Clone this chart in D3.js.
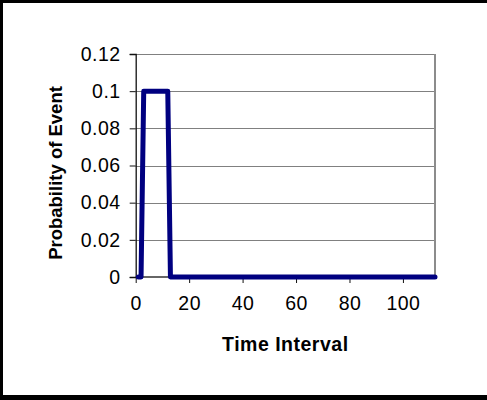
<!DOCTYPE html>
<html>
<head>
<meta charset="utf-8">
<script src="https://cdn.jsdelivr.net/npm/d3@7"></script>
<style>
  html, body { margin: 0; padding: 0; background: #fff; }
  svg { display: block; }
  text { font-family: "Liberation Sans", Arial, sans-serif; fill: #000; }
</style>
</head>
<body>
<svg id="chart" width="487" height="400"></svg>
<script>
// ---- data (breakpoints of the series; intermediate points are collinear) ----
const timeValues = [1, 2, 3, 12, 13, 112];
const probValues = [0, 0, 0.1, 0.1, 0, 0];
const xTickValues = [0, 20, 40, 60, 80, 100];
const yTickValues = [0, 0.02, 0.04, 0.06, 0.08, 0.1, 0.12];
const xTitle = "Time Interval";
const yTitle = "Probability of Event";

const svg = d3.select("#chart");
const W = 487, H = 400;
const plot = { left: 135.7, right: 435, top: 54, bottom: 277 };

svg.append("rect").attr("x", 0).attr("y", 0).attr("width", W).attr("height", H).attr("fill", "#fff");
// outer frame (black)
svg.append("rect").attr("x", 0).attr("y", 0).attr("width", W).attr("height", 3).attr("fill", "#000");
svg.append("rect").attr("x", 0).attr("y", 0).attr("width", 3).attr("height", H).attr("fill", "#000");
svg.append("rect").attr("x", 0).attr("y", 395).attr("width", W).attr("height", 5).attr("fill", "#000");

const x = d3.scaleLinear().domain([0, 112]).range([plot.left, plot.right]);
const y = d3.scaleLinear().domain([0, 0.12]).range([plot.bottom, plot.top]);

// gridlines
svg.append("g").selectAll("line").data(yTickValues.filter(d => d > 0)).join("line")
  .attr("x1", plot.left).attr("x2", plot.right)
  .attr("y1", d => Math.round(y(d)) + 0.5).attr("y2", d => Math.round(y(d)) + 0.5)
  .attr("stroke", "#808080").attr("stroke-width", 1);
// right frame
svg.append("line").attr("x1", plot.right).attr("x2", plot.right)
  .attr("y1", plot.top).attr("y2", plot.bottom)
  .attr("stroke", "#8c8c8c").attr("stroke-width", 2);

// y axis
const yAxis = d3.axisLeft(y).tickValues(yTickValues).tickSize(6).tickPadding(9)
  .tickFormat(d => d3.format("")(+d.toFixed(2)));
const gy = svg.append("g").attr("transform", `translate(${plot.left},0)`).call(yAxis);
gy.select(".domain").attr("stroke", "#111").attr("stroke-width", 1.3);
gy.selectAll(".tick line").attr("stroke", "#111");
gy.selectAll(".tick text").style("font-size", "19.5px").style("letter-spacing", "0.5px").attr("fill", "#000");

// x axis
const xAxis = d3.axisBottom(x).tickValues(xTickValues).tickSize(6).tickPadding(13).tickFormat(d3.format("d"));
const gx = svg.append("g").attr("transform", `translate(0,${plot.bottom})`).call(xAxis);
gx.select(".domain").attr("stroke", "#333").attr("stroke-width", 1.3)
  .attr("d", `M${plot.left},0H${plot.right}`);
gx.selectAll(".tick line").attr("stroke", "#111");
gx.selectAll(".tick text").style("font-size", "19.5px").style("letter-spacing", "0.5px").attr("fill", "#000");

// series line
const pts = timeValues.map((t, i) => [t, probValues[i]]);
const line = d3.line().x(d => x(d[0])).y(d => y(d[1]));
svg.append("path").datum(pts).attr("d", line)
  .attr("fill", "none").attr("stroke", "#000080").attr("stroke-width", 5)
  .attr("stroke-linejoin", "round").attr("stroke-linecap", "round");

// titles
svg.append("text").attr("x", (plot.left + plot.right) / 2).attr("y", 351)
  .attr("text-anchor", "middle").style("font-size", "19.5px").style("font-weight", "bold")
  .style("letter-spacing", "0.5px")
  .text(xTitle);
svg.append("text").attr("transform", `translate(61.5,173) rotate(-90)`)
  .attr("text-anchor", "middle").style("font-size", "18.5px").style("font-weight", "bold")
  .text(yTitle);
</script>
</body>
</html>
